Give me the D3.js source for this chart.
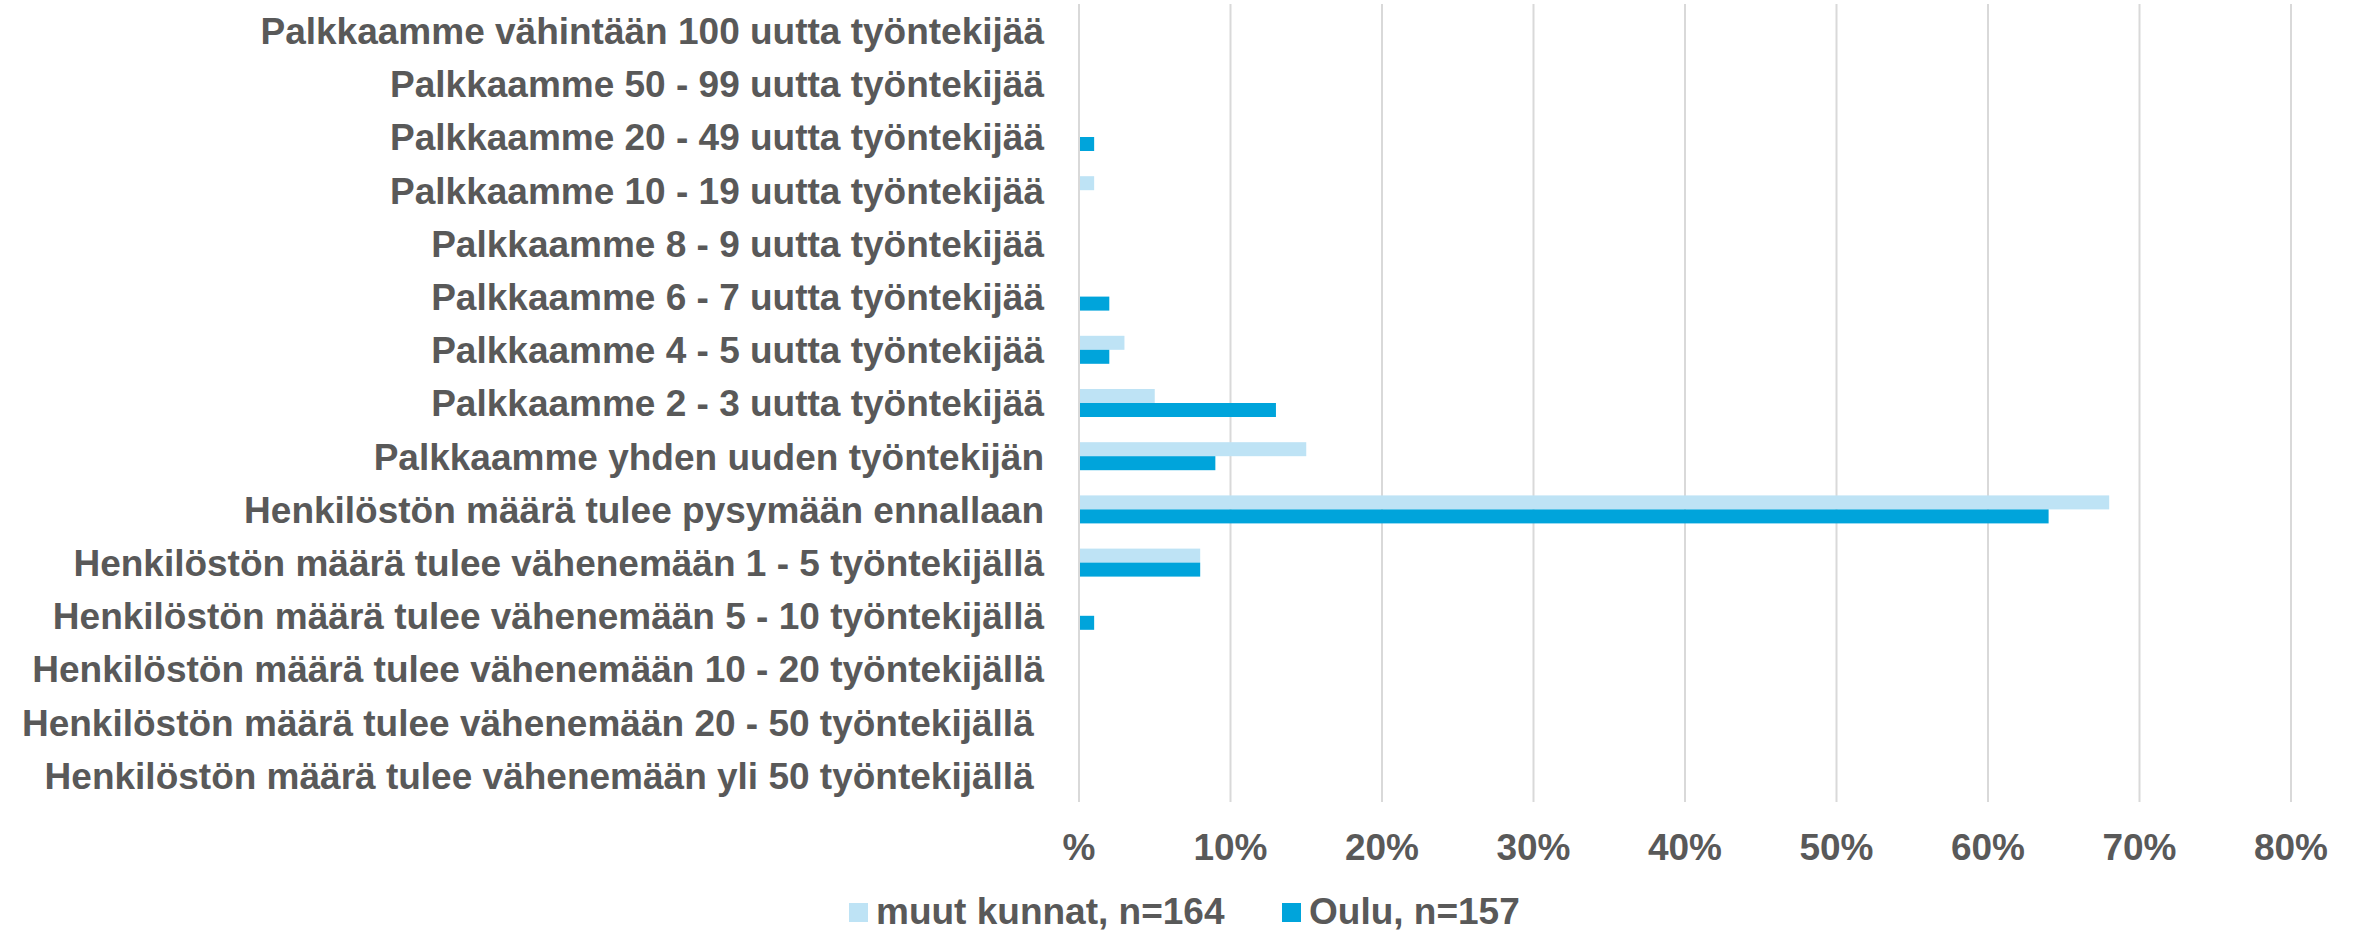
<!DOCTYPE html>
<html>
<head>
<meta charset="utf-8">
<script src="https://cdn.jsdelivr.net/npm/d3@7"></script>
<style>
  body { margin: 0; background: #fff; }
  text { font-family: "Liberation Sans", Arial, sans-serif; font-weight: bold; fill: #595959; white-space: pre; }
</style>
</head>
<body>
<div id="chart"></div>
<script>
// categories, top to bottom
var categories = [
  "Palkkaamme vähintään 100 uutta työntekijää",
  "Palkkaamme 50 - 99 uutta työntekijää",
  "Palkkaamme 20 - 49 uutta työntekijää",
  "Palkkaamme 10 - 19 uutta työntekijää",
  "Palkkaamme 8 - 9 uutta työntekijää",
  "Palkkaamme 6 - 7 uutta työntekijää",
  "Palkkaamme 4 - 5 uutta työntekijää",
  "Palkkaamme 2 - 3 uutta työntekijää",
  "Palkkaamme yhden uuden työntekijän",
  "Henkilöstön määrä tulee pysymään ennallaan",
  "Henkilöstön määrä tulee vähenemään 1 - 5 työntekijällä",
  "Henkilöstön määrä tulee vähenemään 5 - 10 työntekijällä",
  "Henkilöstön määrä tulee vähenemään 10 - 20 työntekijällä",
  "Henkilöstön määrä tulee vähenemään 20 - 50 työntekijällä ",
  "Henkilöstön määrä tulee vähenemään yli 50 työntekijällä "
];

var seriesNames = ["muut kunnat, n=164", "Oulu, n=157"];
var seriesColors = ["#bee3f5", "#00a4db"];

// percentages
var muutKunnat = [0, 0, 0, 1, 0, 0, 3, 5, 15, 68, 8, 0, 0, 0, 0];
var oulu       = [0, 0, 1, 0, 0, 2, 2, 13, 9, 64, 8, 1, 0, 0, 0];

var tickValues = [0, 10, 20, 30, 40, 50, 60, 70, 80];
var tickLabels = ["%", "10%", "20%", "30%", "40%", "50%", "60%", "70%", "80%"];

var W = 2361, H = 931;
var margin = {top: 4, left: 1079};
var plotW = 1212, plotH = 798;

var svg = d3.select("#chart").append("svg")
  .attr("width", W)
  .attr("height", H);

var x = d3.scaleLinear()
  .domain([0, 80])
  .range([margin.left, margin.left + plotW]);

var y = d3.scaleBand()
  .domain(categories)
  .range([margin.top, margin.top + plotH])
  .padding(0);

var barH = 14;
var ySub = d3.scaleBand()
  .domain(seriesNames)
  .range([y.bandwidth() / 2 - barH, y.bandwidth() / 2 + barH]);

// gridlines
svg.append("g")
  .selectAll("line")
  .data(tickValues)
  .enter().append("line")
    .attr("x1", function(d) { return x(d); })
    .attr("x2", function(d) { return x(d); })
    .attr("y1", margin.top)
    .attr("y2", margin.top + plotH)
    .attr("stroke", "#d9d9d9")
    .attr("stroke-width", 2);

// bars
var rows = categories.map(function(c, i) {
  return {cat: c, values: [muutKunnat[i], oulu[i]]};
});

var group = svg.append("g").selectAll("g")
  .data(rows)
  .enter().append("g")
    .attr("transform", function(d) { return "translate(0," + y(d.cat) + ")"; });

group.selectAll("rect")
  .data(function(d) { return d.values.map(function(v, j) { return {name: seriesNames[j], value: v, j: j}; }); })
  .enter().append("rect")
    .attr("x", x(0) + 1)
    .attr("y", function(d) { return ySub(d.name); })
    .attr("width", function(d) { return Math.max(0, x(d.value) - x(0) - 1); })
    .attr("height", ySub.bandwidth())
    .attr("fill", function(d) { return seriesColors[d.j]; });

// category labels
svg.append("g").selectAll("text")
  .data(categories)
  .enter().append("text")
    .attr("x", margin.left - 35)
    .attr("y", function(d) { return y(d) + y.bandwidth() / 2; })
    .attr("dy", "0.36em")
    .attr("text-anchor", "end")
    .style("font-size", "37px")
    .text(function(d) { return d; });

// x axis labels
svg.append("g").selectAll("text")
  .data(tickValues)
  .enter().append("text")
    .attr("x", function(d) { return x(d); })
    .attr("y", 860)
    .attr("text-anchor", "middle")
    .style("font-size", "37px")
    .text(function(d, i) { return tickLabels[i]; });

// legend
var legendX = [849, 1282];
var legend = svg.append("g").selectAll("g")
  .data(seriesNames)
  .enter().append("g")
    .attr("transform", function(d, i) { return "translate(" + legendX[i] + ",903)"; });

legend.append("rect")
  .attr("width", 19)
  .attr("height", 19)
  .attr("fill", function(d, i) { return seriesColors[i]; });

legend.append("text")
  .attr("x", 27)
  .attr("y", 21)
  .style("font-size", "37px")
  .text(function(d) { return d; });
</script>
</body>
</html>
